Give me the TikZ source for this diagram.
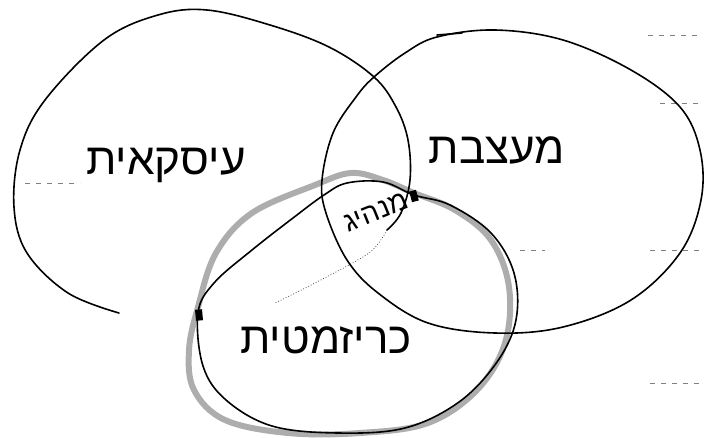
\documentclass[tikz,border=0pt]{standalone}
\usepackage{fontspec}
\newfontfamily\hebfont[Script=Hebrew]{Liberation Sans}
\TeXXeTstate=1
\usetikzlibrary{positioning}

\begin{document}
\begin{tikzpicture}[x=1pt, y=-1pt,
                    hand/.style={line width=1.6pt, line cap=round, line join=round},
                    marker/.style={line width=6pt, draw=black!32, line cap=round, line join=round},
                    blot/.style={fill=black, inner sep=0pt, minimum width=7pt, minimum height=11pt},
                    lbl/.style={font=\hebfont\fontsize{44}{48}\selectfont, inner sep=0pt},
                    ruling/.style={black!50, line width=0.8pt, dash pattern=on 5pt off 6pt}]
  \useasboundingbox (0,0) rectangle (705,437);

  % paper lines
  \draw[ruling] (648,35) -- (700,35);
  \draw[ruling] (660,103) -- (700,103);
  \draw[ruling] (25,183) -- (80,183);
  \draw[ruling] (520,250) -- (545,250) (650,250) -- (700,250);
  \draw[ruling] (650,383) -- (700,383);

  % highlighter round the bottom set
  \draw[marker] plot[smooth cycle, tension=0.6] coordinates {
    (351,173) (315,185) (252,213) (216,253) (198,307) (189,350) (194,390)
    (225,420) (288,433) (360,433) (428,423) (477,390) (505,343) (509,287)
    (491,240) (455,210) (414,193) (383,180)};

  % left set
  \draw[hand] plot[smooth, tension=0.6] coordinates {
    (119,313) (68,293) (27,253) (14,207) (20,150) (45,100) (104,40) (158,15)
    (207,10) (270,25) (329,47) (374,77) (396,107) (408,140) (410,180)
    (401,213) (387,230)};
  \draw[black!70, line width=0.8pt, dotted] plot[smooth] coordinates {
    (387,230) (369,253) (315,283) (275,303)};

  % right set
  \draw[hand] plot[smooth cycle, tension=0.6] coordinates {
    (437,37) (495,30) (563,40) (631,70) (680,107) (700,150) (701,200)
    (680,253) (631,300) (563,327) (495,333) (428,323) (378,293) (347,260)
    (326,213) (322,180) (333,133) (356,97) (374,77) (405,53)};
  \draw[hand] (437,35) -- (462,33);

  % bottom set
  \draw[hand] plot[smooth cycle, tension=0.6] coordinates {
    (414,195) (450,205) (491,233) (514,273) (516,320) (497,362) (459,402)
    (405,428) (338,433) (272,426) (226,400) (203,366) (198,313) (214,283)
    (252,250) (293,218) (324,195) (347,183) (383,182)};
  \node[blot, rotate=15] (blotA) at (414,196) {};
  \node[blot, rotate=5] (blotB) at (199,315) {};

  % labels
  \node[lbl] (transact) at (166,165) {\beginR עיסקאית\endR};
  \node[lbl] (shaping) at (497,150) {\beginR מעצבת\endR};
  \node[lbl, font=\hebfont\fontsize{28}{32}\selectfont, rotate=22] (leader) at (376,212) {\beginR מנהיג\endR};
  \node[lbl] (charisma) at (326,340) {\beginR כריזמטית\endR};

\end{tikzpicture}
\end{document}
